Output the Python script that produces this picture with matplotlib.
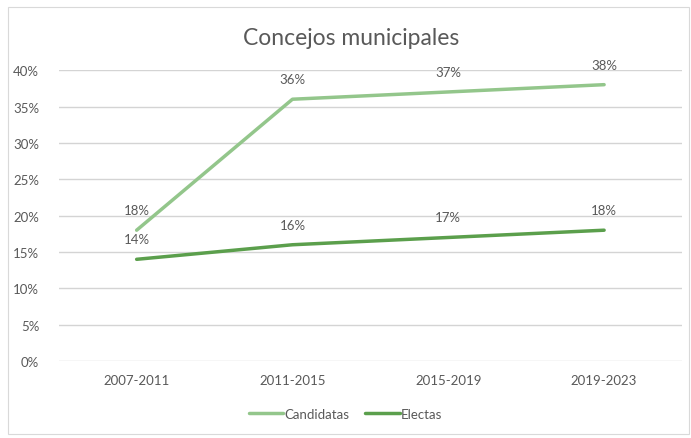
import matplotlib
matplotlib.use("Agg")
import matplotlib.pyplot as plt
from matplotlib.patches import Rectangle

periodos = ["2007-2011", "2011-2015", "2015-2019", "2019-2023"]
candidatas = [18, 36, 37, 38]
electas = [14, 16, 17, 18]

plt.rcParams["font.family"] = ["Lato", "DejaVu Sans"]
gris = "#595959"

fig = plt.figure(figsize=(6.91, 4.39), dpi=100)
fig.patches.append(Rectangle((0.012, 0.009), 0.985, 0.973, transform=fig.transFigure,
                             fill=False, edgecolor="#d9d9d9", linewidth=0.8))
ax = fig.add_axes([0.085, 0.175, 0.902, 0.663])

x = list(range(len(periodos)))
ax.plot(x, candidatas, color="#93c68b", linewidth=2.5, label="Candidatas", solid_capstyle="round")
ax.plot(x, electas, color="#5b9f4c", linewidth=2.5, label="Electas", solid_capstyle="round")

for serie in (candidatas, electas):
    for xi, v in zip(x, serie):
        ax.annotate(f"{v}%", (xi, v), xytext=(0, 14.5), textcoords="offset points",
                    ha="center", va="center", fontsize=9.5, color=gris)

ax.set_xlim(-0.5, 3.5)
ax.set_ylim(0, 40)
ax.set_yticks(range(0, 41, 5))
ax.set_yticklabels([f"{t}%" for t in range(0, 41, 5)])
ax.set_xticks(x)
ax.set_xticklabels(periodos)
ax.tick_params(length=0, colors=gris, labelsize=9.5)
ax.tick_params(axis="y", pad=14)
ax.tick_params(axis="x", pad=9)
ax.grid(axis="y", color="#d4d4d4", linewidth=1.0)
ax.set_axisbelow(True)
for s in ax.spines.values():
    s.set_visible(False)

fig.text(0.508, 0.913, "Concejos municipales", ha="center", va="center", fontsize=16.5, color=gris)
fig.legend(loc="center", bbox_to_anchor=(0.5, 0.055), ncol=2, frameon=False, fontsize=9.5,
           labelcolor=gris, handlelength=2.6, handletextpad=0.1, columnspacing=1.2)

fig.savefig("out.png", dpi=100)
